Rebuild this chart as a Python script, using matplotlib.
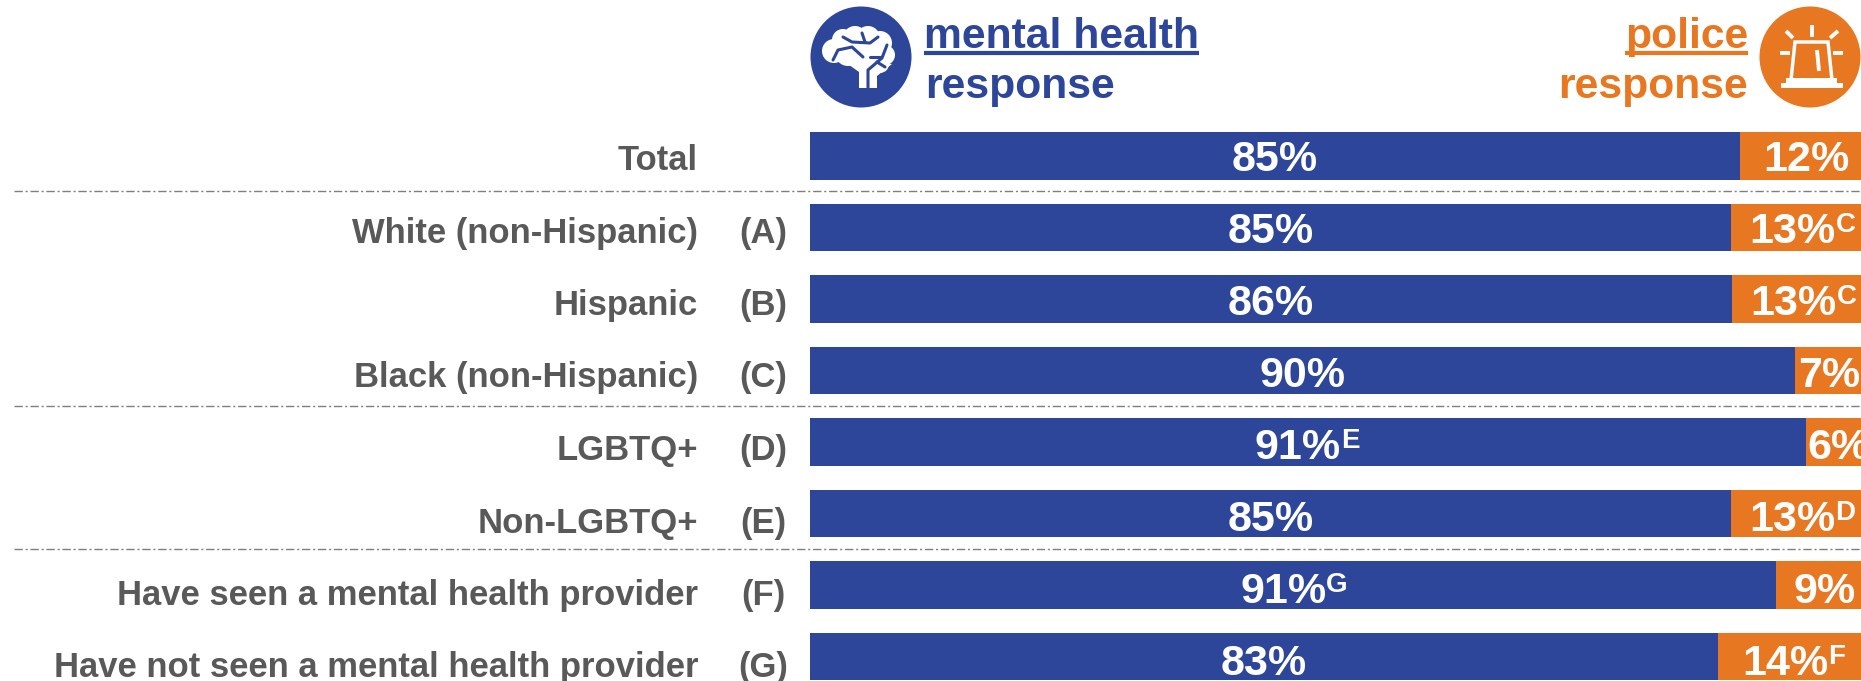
import matplotlib
matplotlib.use('Agg')
import matplotlib.pyplot as plt
from matplotlib.patches import Circle, Polygon, Rectangle

plt.rcParams['font.family'] = ['Liberation Sans', 'DejaVu Sans']
plt.rcParams['font.weight'] = 'bold'

groups = ['Total', 'White (non-Hispanic)', 'Hispanic', 'Black (non-Hispanic)', 'LGBTQ+',
          'Non-LGBTQ+', 'Have seen a mental health provider', 'Have not seen a mental health provider']
letters = ['', '(A)', '(B)', '(C)', '(D)', '(E)', '(F)', '(G)']

# bar lengths as drawn in the picture (they do not always agree with the printed labels)
mental = [85, 84.2, 84.3, 90, 91, 84.2, 88.3, 83]
police = [12.2, 13, 13, 6.3, 6, 13, 8.8, 14]
mental_labels = ['85%', '85%', '86%', '90%', '91%', '85%', '91%', '83%']
police_labels = ['12%', '13%', '13%', '7%', '6%', '13%', '9%', '14%']
mental_sup = ['', '', '', '', 'E', '', 'G', '']
police_sup = ['', 'C', 'C', '', '', 'D', '', 'F']
separators = [0.49, 3.5, 5.5]

BLUE = '#2E4699'
ORANGE = '#E87722'
GREY = '#595959'
W, H = 1861, 681
LEFT = 810
PX_PER_PCT = 10.94
ROW0, ROW_STEP = 156, 71.5

fig = plt.figure(figsize=(W / 100, H / 100), dpi=100)

# bars: x in percent, y in rows, axes fills the whole figure
ax = fig.add_axes([0, 0, 1, 1])
ax.set_xlim(-LEFT / PX_PER_PCT, (W - LEFT) / PX_PER_PCT)
ax.set_ylim((H - ROW0) / ROW_STEP, -ROW0 / ROW_STEP)
ax.axis('off')
y = range(len(groups))
ax.barh(y, mental, height=0.67, color=BLUE)
ax.barh(y, police, left=mental, height=0.67, color=ORANGE)

sep_left = 14 / PX_PER_PCT - LEFT / PX_PER_PCT
ax.hlines(separators, sep_left, (W - LEFT) / PX_PER_PCT, color='#7f7f7f', lw=1, linestyles=(0, (6, 2, 1.5, 2)))


def value_label(x, row, text, sup):
    # main number, shifted left a bit when a superscript follows it
    shift = -7 if sup else 0
    # the text rows drift a little below the bar rows further down
    t = ax.annotate(text, (x, row), xytext=(shift, -3 - 0.35 * row), textcoords='offset points', ha='center',
                    va='center', color='white', fontsize=31)
    if sup:
        ax.annotate(sup, xy=(1, 1), xycoords=t, xytext=(0, 0), textcoords='offset points', ha='left', va='top',
                    color='white', fontsize=20)


for i in y:
    value_label(mental[i] / 2, i, mental_labels[i], mental_sup[i])
    value_label(mental[i] + police[i] / 2, i, police_labels[i], police_sup[i])

# overlay in image pixels for header and row labels
ov = fig.add_axes([0, 0, 1, 1])
ov.set_xlim(0, W)
ov.set_ylim(H, 0)
ov.axis('off')
ov.patch.set_alpha(0)

for i in y:
    ly = 157 + 72.5 * i
    ov.text(698, ly, groups[i], ha='right', va='center_baseline', color=GREY, fontsize=24.9)
    ov.text(763, ly, letters[i], ha='center', va='center_baseline', color=GREY, fontsize=24.9)

# header text
ov.text(924, 48, 'mental health', color=BLUE, fontsize=30.7, va='baseline')
ov.text(925, 98, 'response', color=BLUE, fontsize=30.7, va='baseline')
ov.plot([924, 1199], [53, 53], color=BLUE, lw=3, solid_capstyle='butt')
ov.text(1748, 48, 'police', color=ORANGE, fontsize=30.7, va='baseline', ha='right')
ov.text(1748, 98, 'response', color=ORANGE, fontsize=30.7, va='baseline', ha='right')
ov.plot([1625, 1748], [53, 53], color=ORANGE, lw=3, solid_capstyle='butt')

# brain icon
ov.add_patch(Circle((861, 57), 50.5, color=BLUE, lw=0))
for cx, cy, r in [(834, 51, 12), (843, 40, 11), (855, 38, 12), (868, 38, 12), (880, 43, 12), (885, 55, 10),
                  (880, 64, 9), (848, 53, 13), (866, 52, 18)]:
    ov.add_patch(Circle((cx, cy), r, color='white', lw=0))
ov.add_patch(Polygon([[859, 88], [877, 88], [877, 76], [892, 64], [860, 60], [845, 62], [859, 72]],
                     color='white', lw=0))
for path in [[(833, 60), (838, 50), (852, 47), (863, 57)], [(843, 37), (852, 42), (870, 43), (878, 37)],
             [(862, 33), (865, 42)], [(868, 88), (868, 70), (882, 58), (887, 45)],
             [(870, 57), (880, 57)], [(877, 62), (885, 67)]]:
    ov.plot(*zip(*path), color=BLUE, lw=2.2, solid_capstyle='round')

# siren icon
ov.add_patch(Circle((1810, 57), 50.5, color=ORANGE, lw=0))
ov.add_patch(Polygon([[1795, 42], [1828, 42], [1832, 80], [1791, 80]], closed=True, fill=False, ec='white', lw=2.5))
ov.add_patch(Rectangle((1786, 78), 51, 6, color='white', lw=0))
ov.add_patch(Rectangle((1781, 83), 62, 5, color='white', lw=0))
for path in [[(1812, 25), (1812, 37)], [(1786, 31), (1793, 38)], [(1838, 31), (1830, 38)], [(1780, 53), (1790, 53)],
             [(1833, 53), (1843, 53)], [(1817, 50), (1819, 71)]]:
    ov.plot(*zip(*path), color='white', lw=2.8, solid_capstyle='butt')

fig.savefig('out.png', dpi=100)
